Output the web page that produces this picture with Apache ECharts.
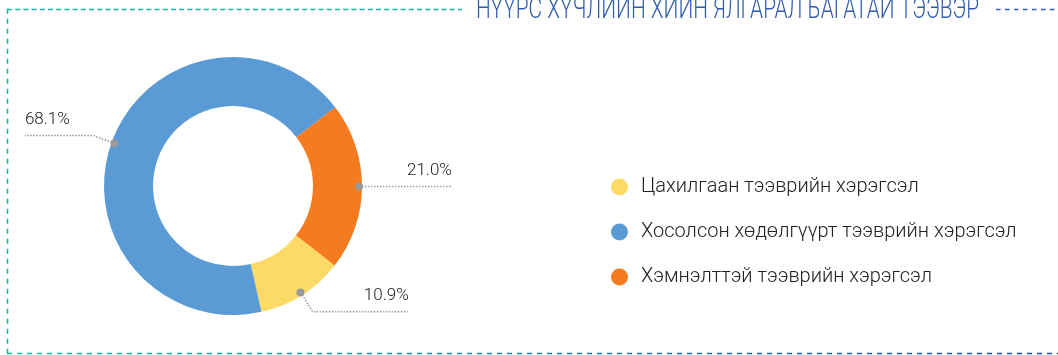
<!DOCTYPE html>
<html>
<head>
<meta charset="utf-8">
<script src="https://cdn.jsdelivr.net/npm/echarts@6/dist/echarts.min.js"></script>
<style>
  html, body { margin: 0; padding: 0; background: #ffffff; }
  #chart { width: 1058px; height: 355px; }
</style>
</head>
<body>
<div id="chart"></div>
<script>
// Chart content
const chartTitle = 'НҮҮРС ХҮЧЛИЙН ХИЙН ЯЛГАРАЛ БАГАТАЙ ТЭЭВЭР';
const categories = [
  'Цахилгаан тээврийн хэрэгсэл',
  'Хосолсон хөдөлгүүрт тээврийн хэрэгсэл',
  'Хэмнэлттэй тээврийн хэрэгсэл'
];
const shares = [10.9, 68.1, 21.0];
const sliceColors = ['#fdd966', '#5b9bd5', '#f47b20'];

const FONT = 'Roboto, "Liberation Sans Narrow", sans-serif';
const PIE_CX = 233, PIE_CY = 186;

const chart = echarts.init(document.getElementById('chart'), null, { renderer: 'canvas' });

// per-slice length of the horizontal leader segment
const leaderTail = [42, 14, 16];

const pieData = categories.map((name, i) => ({
  name: name,
  value: shares[i],
  itemStyle: { color: sliceColors[i] },
  labelLine: { length2: leaderTail[i] }
}));

// Dashed frame around the panel, with a gap where the heading sits
const frame = [
  { type: 'line', shape: { x1: 7, y1: 9.5, x2: 462, y2: 9.5 },
    style: { stroke: '#19b6a8', lineWidth: 1.6, lineDash: [5, 3.2] }, silent: true },
  { type: 'line', shape: { x1: 996, y1: 9.5, x2: 1058, y2: 9.5 },
    style: { stroke: '#3560b2', lineWidth: 1.6, lineDash: [4.5, 4.5] }, silent: true },
  { type: 'line', shape: { x1: 7.5, y1: 8.7, x2: 7.5, y2: 354 },
    style: { stroke: '#18b49f', lineWidth: 1.6, lineDash: [5, 5] }, silent: true },
  { type: 'line', shape: { x1: 7, y1: 353.5, x2: 1058, y2: 353.5 },
    style: {
      stroke: new echarts.graphic.LinearGradient(0, 0, 1, 0, [
        { offset: 0, color: '#16bcab' },
        { offset: 1, color: '#1a4c9f' }
      ]),
      lineWidth: 1.6, lineDash: [5, 5]
    }, silent: true },
  // Heading, narrowed horizontally to a condensed look
  { type: 'text', x: 476, y: 25, scaleX: 0.72, silent: true,
    style: {
      text: chartTitle,
      fontFamily: FONT, fontSize: 29, fontWeight: 300,
      fill: '#2f5cb0', verticalAlign: 'bottom'
    } }
];

const option = {
  backgroundColor: '#ffffff',
  animation: false,
  legend: {
    orient: 'vertical',
    left: 606,
    top: 172,
    itemGap: 25,
    itemWidth: 17,
    itemHeight: 17,
    icon: 'circle',
    data: categories,
    textStyle: { fontFamily: FONT, fontSize: 20, fontWeight: 300, color: '#222222', padding: [0, 0, 0, 8] }
  },
  graphic: frame,
  series: [{
    type: 'pie',
    center: [PIE_CX, PIE_CY],
    radius: [80, 129],
    startAngle: -38,
    clockwise: true,
    avoidLabelOverlap: false,
    data: pieData,
    label: {
      show: true,
      formatter: p => p.value.toFixed(1) + '%',
      fontFamily: FONT,
      fontSize: 17,
      fontWeight: 300,
      color: '#222222',
      padding: [0, 4, 0, 4]
    },
    labelLine: {
      show: true,
      length: 20,
      length2: 30,
      smooth: false,
      lineStyle: { color: '#9a9a9a', width: 1.5, type: 'dotted' }
    },
    labelLayout: function (params) {
      const pts = params.labelLinePoints;
      if (!pts) return {};
      const r = params.labelRect;
      const isLeft = r.x + r.width / 2 < PIE_CX;
      pts[2][0] = isLeft ? r.x : r.x + r.width;
      return { labelLinePoints: pts, dy: -8 };
    },
    emphasis: { disabled: true }
  }]
};

chart.setOption(option);

// Small grey dots where each label line meets its slice, placed from the pie's own layout
const pieSeriesData = chart.getModel().getSeriesByIndex(0).getData();
const dots = [];
pieSeriesData.each(function (idx) {
  const lay = pieSeriesData.getItemLayout(idx);
  const mid = (lay.startAngle + lay.endAngle) / 2;
  const rr = lay.r - 3;
  dots.push({
    type: 'circle',
    shape: { cx: lay.cx + Math.cos(mid) * rr, cy: lay.cy + Math.sin(mid) * rr, r: 4 },
    style: { fill: '#9a9a9a' },
    z: 100,
    silent: true
  });
});
chart.setOption({ graphic: frame.concat(dots) });
</script>
</body>
</html>
